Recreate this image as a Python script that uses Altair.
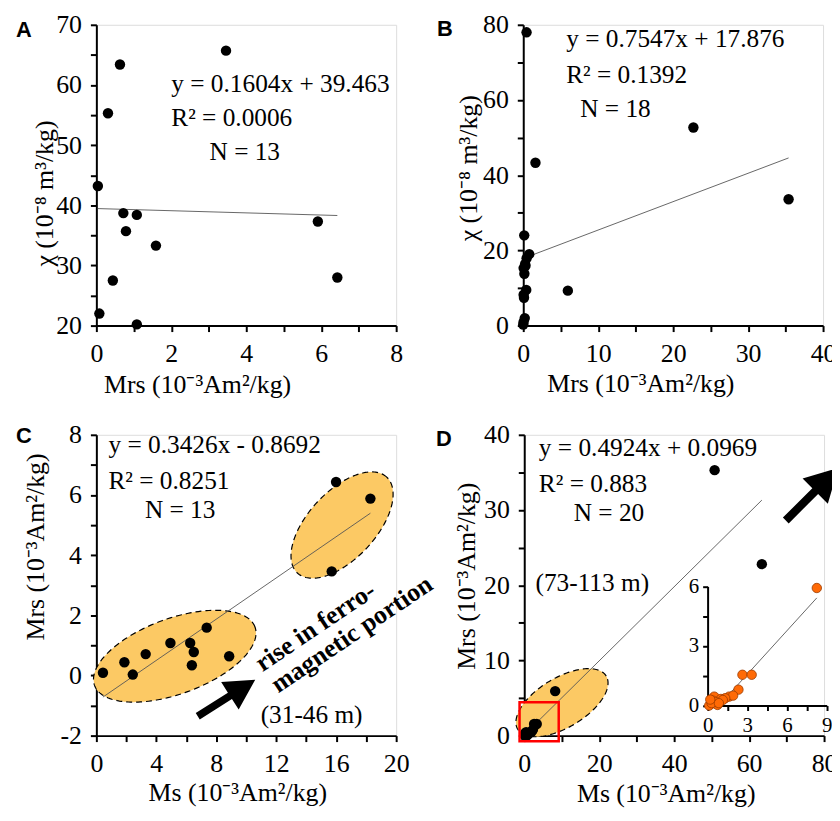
import math
import altair as alt
import numpy as np
import pandas as pd

SERIF = "Liberation Serif"
SANS = "Liberation Sans"
W, H = 302, 303
FILL = "#FCC964"
FS = 26      # axis labels / titles
FT = 25.5    # annotation text

# ---------------- data ----------------
# Panel A: chi vs Mrs (31-46 m)
A_mrs = [0.04, 0.08, 0.31, 0.44, 0.63, 0.72, 0.79, 1.08, 1.08, 1.59, 3.46, 5.91, 6.43]
A_chi = [43.2, 22.0, 55.3, 27.5, 63.4, 38.7, 35.7, 38.4, 20.2, 33.3, 65.7, 37.3, 28.0]
A_line_x = [0.04, 6.43]          # trend line as drawn in the figure
A_line_y = [39.45, 38.3]

# Panel B: chi vs Mrs (73-113 m)
B_mrs = [0.44, 1.63, 22.7, 35.4, 5.95, 0.13, 0.80, 0.45, 0.25, 0.05, 0.15, 0.40, 0.05, 0.10, 0.20, 0.05, 0.00, 0.30]
B_chi = [78.0, 43.3, 52.7, 33.6, 9.3, 24.0, 19.0, 17.9, 16.4, 15.3, 13.8, 9.5, 8.2, 7.4, 2.0, 1.0, 0.3, 15.9]
B_fit = (0.7547, 17.876)

# Panel C: Mrs vs Ms (31-46 m)
C_ms = [0.44, 1.87, 2.43, 3.29, 4.94, 6.26, 6.50, 6.37, 7.36, 8.86, 15.70, 15.99, 18.28]
C_mrs = [0.09, 0.44, 0.03, 0.71, 1.08, 1.08, 0.78, 0.34, 1.59, 0.64, 3.46, 6.43, 5.88]
C_fit = (0.3426, -0.8692)

# Panel D: Mrs vs Ms (73-113 m)
D_ms = [50.8, 63.4, 8.25, 2.63, 3.33, 2.33, 1.63, 1.93, 1.33, 0.50, 0.25, 0.12, 0.75, 0.38, 1.00, 0.60, 0.30, 1.15, 0.85, 0.20]
D_mrs = [35.3, 22.8, 5.92, 1.55, 1.55, 0.80, 0.45, 0.50, 0.37, 0.45, 0.08, 0.00, 0.03, 0.25, 0.33, 0.18, 0.12, 0.28, 0.12, 0.30]
D_fit = (0.4924, 0.0969)
INSET_fit = (0.733, -0.625)
INSET_xrange = (0.85, 8.25)

TXT = {
    "A": ["y = 0.1604x + 39.463", "R² = 0.0006", "N = 13"],
    "B": ["y = 0.7547x + 17.876", "R² = 0.1392", "N = 18"],
    "C": ["y = 0.3426x - 0.8692", "R² = 0.8251", "N = 13"],
    "D": ["y = 0.4924x + 0.0969", "R² = 0.883", "N = 20"],
}
T_CHI = "χ (10⁻⁸ m³/kg)"
T_MRS = "Mrs (10⁻³Am²/kg)"
T_MS = "Ms (10⁻³Am²/kg)"

ARROW = "M0,-1 L0.48,-0.12 L0.11,-0.12 L0.11,1 L-0.11,1 L-0.11,-0.12 L-0.48,-0.12 Z"


def axis(vals, every, title, tx, ty, **kw):
    return alt.Axis(
        values=vals,
        labelExpr=f"(datum.value % {every} == 0) ? toString(datum.value) : ''",
        title=title, titleX=tx, titleY=ty, titleAlign="center", titleBaseline="alphabetic",
        grid=False, domainColor="black", domainWidth=2, tickColor="black", tickWidth=2,
        tickSize=kw.pop("tickSize", 6), labelFont=SERIF, labelFontSize=kw.pop("labelFontSize", FS),
        labelColor="black", labelPadding=kw.pop("labelPadding", 9), labelFlush=False, labelOverlap=False,
        titleFont=SERIF, titleFontSize=FS, titleFontWeight="normal", titleColor="black", **kw)


def line_df(fit, x0, x1):
    m, c = fit
    return pd.DataFrame({"x": [x0, x1], "y": [m * x0 + c, m * x1 + c]})


def ellipse(cx, cy, a, b, theta, xppu, yppu, n=160):
    th = math.radians(theta)
    c, s = math.cos(th), math.sin(th)
    halfw = math.sqrt(a * a * c * c + b * b * s * s)
    dxs = np.linspace(-halfw, halfw, n)
    A = s * s / (a * a) + c * c / (b * b)
    B = 2 * dxs * c * s * (1 / (a * a) - 1 / (b * b))
    C = dxs ** 2 * (c * c / (a * a) + s * s / (b * b)) - 1
    disc = np.clip(B * B - 4 * A * C, 0, None)
    lo = (-B - np.sqrt(disc)) / (2 * A)
    hi = (-B + np.sqrt(disc)) / (2 * A)
    area = pd.DataFrame({"x": cx + dxs / xppu, "ylo": cy + lo / yppu, "yhi": cy + hi / yppu})
    t = np.linspace(0, 2 * np.pi, 181)
    ox = a * np.cos(t) * c - b * np.sin(t) * s
    oy = a * np.cos(t) * s + b * np.sin(t) * c
    outline = pd.DataFrame({"x": cx + ox / xppu, "y": cy + oy / yppu, "o": np.arange(len(t))})
    return area, outline


def panel(xs, ys, xa, ya):
    X = lambda f: alt.X(f, type="quantitative", scale=xs, axis=xa)
    Y = lambda f: alt.Y(f, type="quantitative", scale=ys, axis=ya)

    def pts(x, y, **kw):
        return alt.Chart(pd.DataFrame({"x": x, "y": y})).mark_circle(
            size=110, color="black", opacity=1, **kw).encode(x=X("x"), y=Y("y"))

    def seg(xv, yv):
        return alt.Chart(pd.DataFrame({"x": xv, "y": yv})).mark_line(
            color="#555555", strokeWidth=0.9).encode(x=X("x"), y=Y("y"))

    def reg(fit, x0, x1):
        d = line_df(fit, x0, x1)
        return seg(list(d.x), list(d.y))

    def text(s, x, y, **kw):
        base = dict(align="left", baseline="alphabetic", font=SERIF, fontSize=FT, color="black")
        base.update(kw)
        return alt.Chart(pd.DataFrame({"x": [x], "y": [y], "t": [s]})).mark_text(**base).encode(
            x=X("x"), y=Y("y"), text="t:N")

    def ell(area, outline):
        fill = alt.Chart(area).mark_area(orient="vertical", color=FILL, opacity=1).encode(
            x=X("x"), y=Y("ylo"), y2=alt.Y2("yhi"))
        edge = alt.Chart(outline).mark_line(color="black", strokeWidth=1.2, strokeDash=[6, 4]).encode(
            x=X("x"), y=Y("y"), order="o:Q")
        return [fill, edge]

    def arrow(x, y, ang, size=4700):
        return alt.Chart(pd.DataFrame({"x": [x], "y": [y]})).mark_point(
            shape=ARROW, size=size, angle=ang, filled=True, color="black", opacity=1).encode(
            x=X("x"), y=Y("y"))

    return pts, seg, reg, text, ell, arrow


def letter(s, dx, dy):
    return alt.Chart(pd.DataFrame({"t": [s]})).mark_text(
        align="left", baseline="alphabetic", font=SANS, fontWeight="bold", fontSize=22, color="black"
    ).encode(x=alt.value(dx), y=alt.value(dy), text="t:N")


# ---------------- Panel A ----------------
xsA = alt.Scale(domain=[0, 8], nice=False, zero=False)
ysA = alt.Scale(domain=[20, 70], nice=False, zero=False)
pts, seg, reg, text, ell, arrow = panel(
    xsA, ysA,
    axis(list(range(0, 9)), 2, T_MRS, 101.5, 67),
    axis(list(range(20, 71, 5)), 10, T_CHI, -44, 169.5))
chartA = alt.layer(
    seg(A_line_x, A_line_y),
    pts(A_mrs, A_chi),
    text(TXT["A"][0], 2.0, 58.9), text(TXT["A"][1], 2.0, 53.2), text(TXT["A"][2], 3.02, 47.5),
    letter("A", -81, 12),
).properties(width=W, height=H)

# ---------------- Panel B ----------------
xsB = alt.Scale(domain=[0, 40], nice=False, zero=False)
ysB = alt.Scale(domain=[0, 80], nice=False, zero=False)
pts, seg, reg, text, ell, arrow = panel(
    xsB, ysB,
    axis(list(range(0, 41, 5)), 10, T_MRS, 118, 66),
    axis(list(range(0, 81, 10)), 20, T_CHI, -47, 144))
chartB = alt.layer(
    reg(B_fit, min(B_mrs), max(B_mrs)),
    pts(B_mrs, B_chi),
    text(TXT["B"][0], 5.73, 74.0), text(TXT["B"][1], 5.73, 64.5), text(TXT["B"][2], 7.6, 55.5),
    letter("B", -87, 11),
).properties(width=W, height=H)

# ---------------- Panel C ----------------
xsC = alt.Scale(domain=[0, 20], nice=False, zero=False)
ysC = alt.Scale(domain=[-2, 8], nice=False, zero=False)
pts, seg, reg, text, ell, arrow = panel(
    xsC, ysC,
    axis(list(range(0, 21, 2)), 4, T_MS, 142, 65),
    axis(list(range(-2, 9)), 2, T_MRS, -53, 112.5))
xppuC, yppuC = W / 20, H / 10
e1 = ell(*ellipse(5.23, 0.64, 86, 38, 20, xppuC, yppuC))
e2 = ell(*ellipse(16.39, 5.0, 66, 34, 47, xppuC, yppuC))
chartC = alt.layer(
    *e1, *e2,
    reg(C_fit, min(C_ms), max(C_ms)),
    pts(C_ms, C_mrs),
    text(TXT["C"][0], 0.81, 7.40), text(TXT["C"][1], 0.81, 6.21), text(TXT["C"][2], 3.24, 5.25),
    text("rise in ferro-", 11.08, 0.11, angle=326, fontWeight="bold", fontSize=26),
    text("magnetic portion", 12.13, -0.60, angle=326, fontWeight="bold", fontSize=26),
    text("(31-46 m)", 10.96, -1.57),
    arrow(8.68, -0.75, 57.6),
    letter("C", -81, 8),
).properties(width=W, height=H)

# ---------------- Panel D ----------------
xsD = alt.Scale(domain=[0, 80], nice=False, zero=False)
ysD = alt.Scale(domain=[0, 40], nice=False, zero=False)
axD_x = axis(list(range(0, 81, 10)), 20, T_MS, 142.5, 66)
axD_y = axis(list(range(0, 41, 5)), 10, T_MRS, -50, 142)
pts, seg, reg, text, ell, arrow = panel(xsD, ysD, axD_x, axD_y)
xppuD, yppuD = W / 80, H / 40
eD = ell(*ellipse(10.07, 4.38, 52, 25, 31, xppuD, yppuD))
redbox = alt.Chart(pd.DataFrame({"x": [-1.25], "x2": [9.2], "y": [-0.75], "y2": [4.45]})).mark_rect(
    fill=None, stroke="#FF0000", strokeWidth=2.5).encode(
    x=alt.X("x", type="quantitative", scale=xsD, axis=axD_x), x2="x2",
    y=alt.Y("y", type="quantitative", scale=ysD, axis=axD_y), y2="y2")
mainD = alt.layer(
    *eD,
    reg(D_fit, min(D_ms), max(D_ms)),
    pts(D_ms, D_mrs),
    redbox,
    text(TXT["D"][0], 3.9, 37.2), text(TXT["D"][1], 3.9, 32.4), text(TXT["D"][2], 13.2, 28.6),
    text("(73-113 m)", 3.0, 19.2),
    arrow(76.8, 32.1, 45, 5600),
    letter("D", -89, 11),
)

# inset (zoom of the red box), drawn with its own scales inside panel D
xsI = alt.Scale(domain=[0, 9], range=[184.7, 304.7], nice=False, zero=False)
ysI = alt.Scale(domain=[0, 6], range=[272.7, 152.7], nice=False, zero=False)
axI_x = axis([0, 1.5, 3, 4.5, 6, 7.5, 9], 3, None, 0, 0, orient="bottom", offset=-30.3,
             tickSize=5, labelFontSize=21, labelPadding=4)
axI_y = axis([0, 1.5, 3, 4.5, 6], 3, None, 0, 0, orient="left", offset=-184.7,
             tickSize=5, labelFontSize=21, labelPadding=4)
D_df = pd.DataFrame({"x": D_ms, "y": D_mrs})
inset_pts = alt.Chart(D_df).transform_filter("datum.x < 9").mark_circle(
    size=90, color="#FF6A06", stroke="#9A3A00", strokeWidth=0.8, opacity=1).encode(
    x=alt.X("x", type="quantitative", scale=xsI, axis=axI_x),
    y=alt.Y("y", type="quantitative", scale=ysI, axis=axI_y))
inset_line = alt.Chart(line_df(INSET_fit, *INSET_xrange)).mark_line(color="#555555", strokeWidth=0.9).encode(
    x=alt.X("x", type="quantitative", scale=xsI, axis=axI_x),
    y=alt.Y("y", type="quantitative", scale=ysI, axis=axI_y))
insetD = alt.layer(inset_line, inset_pts)

chartD = alt.layer(mainD, insetD).resolve_scale(x="independent", y="independent").properties(width=W, height=H)

row1 = alt.hconcat(chartA, chartB, spacing=33)
row2 = alt.hconcat(chartC, chartD, spacing=-3)
chart = alt.vconcat(row1, row2, spacing=23).properties(
    padding={"left": 7, "top": 0, "right": -7, "bottom": 0}
).configure_view(stroke=None).configure(background="white")

chart.save("out.html", embed_options={"renderer": "svg", "actions": False})
